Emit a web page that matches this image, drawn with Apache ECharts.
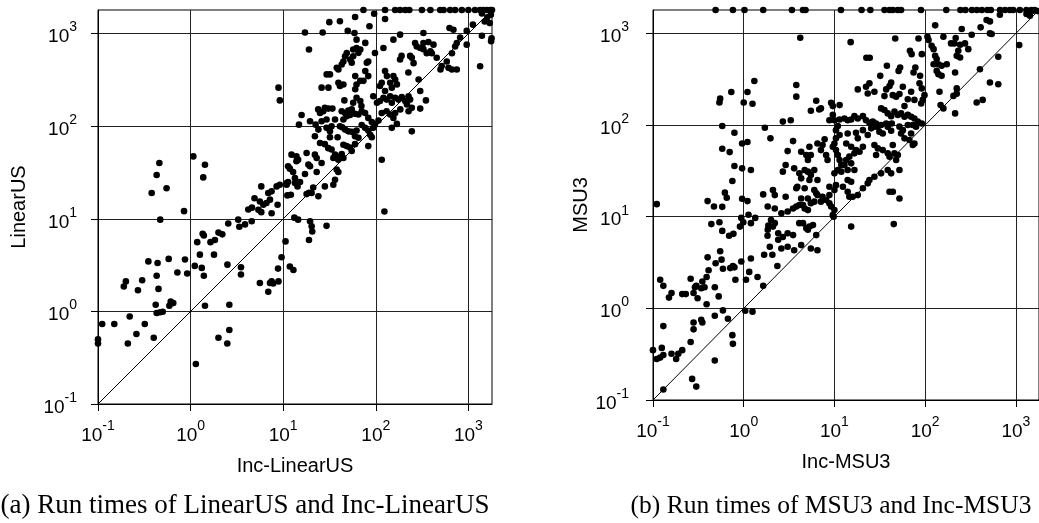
<!DOCTYPE html>
<html>
<head>
<meta charset="utf-8">
<script src="https://cdn.jsdelivr.net/npm/echarts@6/dist/echarts.min.js"></script>
<style>
html,body{margin:0;padding:0;background:#fff;}
#c{width:1039px;height:523px;}
</style>
</head>
<body>
<div id="c"></div>
<script>
// ---------- data ----------
const tickValues = [0.1, 1, 10, 100, 1000];
const tickExponents = ['-1', '0', '1', '2', '3'];
const axisMin = 0.1;
const axisMax = 1800;
const diagonal = [[0.1, 0.1], [1800, 1800]];

const titlesLeft = { x: 'Inc-LinearUS', y: 'LinearUS', caption: '(a) Run times of LinearUS and Inc-LinearUS' };
const titlesRight = { x: 'Inc-MSU3', y: 'MSU3', caption: '(b) Run times of MSU3 and Inc-MSU3' };

// (Inc-LinearUS, LinearUS) run times
const linearTimeouts = [
 [73.6,1800],[126,1800],[162,1800],[183,1800],[208,1800],[230,1800],[315,1800],[389,1800],[497,1800],[540,1800],
 [635,1800],[720,1800],[850,1800],[1000,1800],[1180,1800],[1340,1800],[1450,1800],[1590,1800],[1730,1800],[1800,1800]
];
const linearHigh = [
 [96,1640],[1400,1650],[1600,1500],[1750,1600],[1500,1350],[1700,1300],
 [59.8,1510],[41,1360],[31.5,1330],[126,1440],[17.2,1030],[26.7,1030],[49.8,1070],[58.9,1016],[183,975],[155,861],
 [327,1016],[625,1150],[690,1100],[1120,1250],[960,1070],[1400,950],[1780,890],[1760,830],[1340,445],[960,760],
 [815,910],[720,725],[750,790],[665,615],[585,500],[610,427],[665,410],[750,410],[515,446],[500,410],[455,550],
 [403,615],[327,680],[355,615],[389,645],[302,700],[266,790],[277,725],[327,790],[370,810],[420,760],[235,575],
 [245,550],[256,480],[183,525],[190,575],[225,380],[290,320],[302,240],[155,348],[162,320],[169,283],[126,394],
 [132,348],[143,295],[149,261],[116,295],[111,272],[126,240],[62,282],[68,309],[60,251],[44.7,282],[41,272],
 [39.5,295],[60,348],[73.6,309],[83,348],[77,394],[37.9,427],[39.5,410],[42.9,464],[44.7,500],[46.6,570],[48.6,617],
 [57,673],[62,700],[68,673],[65,620],[55,484],[57,570],[53,525],[80,484],[83,500],[98,617],[62,861],[77,794],
 [85.5,1200],[121,700],[29.5,363],[32,363],[26,261],[30.8,261],[19,673],[8.9,261]
];
const linearMid = [
 [9.2,190],[45.8,190],[57,179],[62,203],[68,187],[70,165],[94,211],[103,179],[111,187],[121,203],[131,194],[143,211],
 [149,179],[162,203],[176,194],[191,206],[208,187],[226,211],[235,194],[217,172],[245,158],[226,145],[302,155],[348,190],
 [23.9,152],[28.2,158],[30.7,155],[34,155],[27.1,145],[25,139],[42.9,145],[46.6,139],[50.6,148],[55,152],[48.5,128],
 [52.7,132],[59.7,136],[64.9,134],[70.5,145],[76.6,139],[15.8,132],[19.5,113],[14.8,104],[22.4,104],[26,113],[29.4,118],
 [36.3,118],[44.7,118],[83,123],[90.6,111],[98,104],[107,115],[116,139],[131,145],[143,134],[155,123],[162,139],[184,152],
 [41,100],[43.5,97.5],[46.6,92],[50.6,88],[55,87],[62,90],[70.5,103],[59.7,78],[65,75],[24,92],[29.4,96],[32,88],
 [33.3,100],[38.7,76],[32,76],[22,78],[25,66],[28.2,64],[30.7,58],[33.3,56],[76.6,96],[83,90],[87,81],[90.6,76],[94,96],
 [83,61],[44.7,63],[48.5,61],[52.7,59],[55,54],[59.7,64],[149,96],[169,106],[245,88],[116,43.5],[124,12],
 [36.3,49.3],[37.8,47.3],[34.8,45.4],[39.4,43.5],[42.9,50],[44.7,45.4],[12.3,49.3],[13.9,47.3],[14.5,43.5],[13.9,41.8],
 [17.9,51.4],[22,49.3],[23,45.4],[18.7,38.5],[19.5,36.9],[26,40.1],[23,32],[17.2,30.5],[11.3,36.9],[11.8,34.8],[12.8,32],
 [13.4,27.5],[10.9,24.3],[37.8,34],[39.4,32],[36.3,26.4],[34.8,23.3],[13.4,24.3],[14.3,22.4],[15.2,25],[21.1,21.8],
 [28.2,22.4],[5.8,22.4],[6.9,19],[7.5,19.8],[8.5,22.4],[9.2,23.3],[10.9,23.3],[11.3,25],[11.1,17.9],[12.1,18.2],
 [17.9,18.5],[19,19.1],[20.3,19],[24,17.5],[5.6,15.4],[6.1,14.2],[6.6,14.8],[7.2,16.1],[8.7,14.2],[7.5,11.5],[5.4,12.5],
 [5.8,11.8],[4.9,16.7],[13.2,10.3],[14.5,9.8],[19.5,9.4],[20.3,8.3],[20.6,7.3],[19,5.9],[29.4,8.4],[10.6,5.7],[9.6,3.85],
 [8.8,2.9],[11.8,3.05]
];
const linearLow = [
 [0.46,40],[0.43,29.7],[0.55,21.4],[0.38,19],[1.07,47.2],[1.43,38.4],[1.37,28],
 [0.85,12.1],[0.47,9.8],[3.27,9.8],[3.36,8.2],[3.87,8.7],[4.2,12.6],[4.6,13.2],[4.57,9.4],[2.55,8.9],[2.0,7.1],[2.2,6.8],
 [1.35,6.9],[1.39,6.6],[1.18,5.6],[1.64,5.6],[1.83,5.9],[1.26,4.1],[1.79,4.1],[2.5,3.2],[3.5,3.0],[3.5,2.5],[1.11,3.1],
 [1.32,2.95],[1.39,2.43],[0.92,2.57],[0.72,2.63],[0.87,3.63],[0.58,3.69],[0.44,3.33],[0.35,3.47],[0.43,2.43],[0.45,1.75],
 [0.30,2.17],[0.20,2.11],[0.19,1.86],[0.27,1.69],[0.42,1.18],[0.61,1.28],[0.65,1.23],[0.59,1.15],[0.43,0.96],[0.47,0.98],
 [0.50,0.99],[1.43,1.15],[2.62,1.18],[0.22,0.88],[0.111,0.73],[0.15,0.73],[0.32,0.73],[0.26,0.57],[0.40,0.52],[0.21,0.45],
 [0.10,0.50],[0.10,0.45],[2.62,0.63],[2.0,0.52],[2.49,0.45],[1.14,0.27],[8.9,2.11],[7.5,2.11],[7.2,2.03],[7.8,2.0],
 [6.9,1.63],[5.6,2.03],[12.9,2.8]
];

// (Inc-MSU3, MSU3) run times
const msuTimeouts = [
 [0.49,1800],[0.76,1800],[1.02,1800],[1.64,1800],[3.4,1800],[4.5,1800],[4.8,1800],[11.8,1800],[19.9,1800],[24.9,1800],
 [35.7,1800],[40.5,1800],[44,1800],[49.9,1800],[54.3,1800],[90,1800],[171,1800],[245,1800],[278,1800],[328,1800],
 [372,1800],[422,1800],[486,1800],[530,1800],[669,1800],[759,1800],[860,1800],[935,1800],[1106,1800],[1307,1800],
 [1483,1800],[1611,1800],[1430,1560],[1310,1630],[1550,1770],[1750,1750]
];
const msuHigh = [
 [476,1400],[518,1352],[667,1600],[409,1164],[518,1000],[541,984],[326,967],[253,1115],[129,1224],[159,920],[217,889],
 [210,778],[193,778],[275,778],[243,752],[299,673],[232,646],[223,569],[243,546],[46.8,881],[84.5,881],[106,920],
 [109,845],[118,733],[124,673],[92,594],[68,646],[71,594],[129,569],[134,524],[140,461],[152,443],[173,461],[124,461],
 [140,359],[152,344],[134,390],[214,374],[223,251],[223,220],[205,208],[159,152],[214,134],[402,406],[518,291],
 [640,279],[370,176],[431,188],[640,556],[1089,745],[37.9,443],[53,425],[51,390],[78,425],[74.5,374],[32,344],[88,344],
 [4.2,897],[15.1,803],[22.5,543],[24.5,543]
];
const msuMid = [
 [3.8,273],[3.8,204],[6.3,184],[5.5,143],[6.8,148],[7.1,152],[9.2,175],[9.6,161],[11.4,165],[18.1,245],[22.3,262],
 [23.3,221],[24.3,285],[27.6,231],[35.6,207],[37.2,245],[40.5,266],[44,212],[47.9,204],[42.2,290],[52.1,218],[56.8,262],
 [59.2,161],[64.4,191],[70.1,231],[76.2,188],[86.7,285],[91.8,251],[94.2,188],[98.4,212],[144,231],[148,165],[90.4,172],
 [32.7,152],[35.6,146],[38.7,134],[42.2,125],[45.9,140],[50,129],[54.3,134],[59.2,123],[64.4,129],[70.1,123],[76.2,118],
 [83,109],[12.9,118],[14,113],[15.3,115],[16.6,125],[18.1,118],[20.6,125],[22.3,113],[24.3,106],[26.5,109],[28.8,104],
 [30.1,96],[32.7,100],[37.2,104],[38.7,96],[42.9,104],[52.1,96],[56.8,88],[64.4,100],[73.1,100],[79.4,96],[91.8,104],
 [8.8,113],[10,113],[9.6,129],[10.9,97.5],[11.4,115],[2.7,109],[3.3,113],[1.97,71.6],[3.5,66.8],[3.05,52],[4.3,51.2],
 [5.3,58],[6.5,63],[5.5,47.1],[4.9,47.1],[5.1,41.5],[7.8,69.8],[7.4,60.5],[7.1,53.3],[8.1,47.1],[8.4,41.5],[10.4,88],
 [11.4,77.8],[10.4,71.6],[10,63],[9.6,58],[10.4,53.3],[10.9,47.1],[11.4,41.5],[11.9,36.6],[10.9,32.3],[10,29.7],[14,81],
 [17.3,82.4],[18.1,71.6],[20.6,88],[23.3,77.8],[25.4,92],[27.6,96],[31.3,84.5],[34.1,81],[42.2,86.7],[13.5,63],[15.3,58],
 [17.3,53.3],[16.6,49.1],[18.9,51.2],[20.6,58],[14.6,45.2],[13.5,41.5],[12.9,36.6],[15.3,38.2],[14,32.3],[11.9,31],
 [16.6,32.3],[27.6,60.5],[30.1,55.6],[28.8,47.1],[34.1,53.3],[38.7,49.1],[40.5,45.2],[45.9,49.1],[50,47.1],[47.9,41.5],
 [52.1,32.3],[38.7,32.3],[42.2,29.7],[32.7,29.7],[27.6,27.3],[24.3,25.1],[23.3,23.1],[20.6,20.4],[18.1,17.2],[15.9,16.5],
 [14.6,16.5],[14,18.7],[12.4,21.2],[14,25.1],[15.3,24.1],[54.3,81],[59.2,71.6],[67.1,68.6],[70.1,81],[76.2,63],[73.1,60.5],
 [44,60.5],[2.7,31],[2.9,36.6],[3.6,33.7],[4.1,29.7],[4.3,26.2],[4.7,32.3],[5.1,31],[5.3,25.1],[5.5,28.5],[6.0,32.3],
 [6.5,25.1],[2.1,19.5],[2.2,17.2],[2.9,16.5],[3.8,20.4],[3.9,21.2],[4.7,20.4],[6.0,19.5],[6.3,18],[6.5,17.2],[7.4,16.5],
 [8.8,17.2],[10,19.5],[8.8,21.2],[10.4,22.1],[4.3,15.8],[5.1,15.8],[5.5,14],[6.0,14.6],[7.1,14.6],[8.1,15.2],[8.8,14],
 [9.2,12.9],[10,11.8],[9.6,10.4],[9.8,10],[1.84,12.9],[2.2,12.3],[2.6,10.9],[3.05,11.4],[3.5,12.3],[3.8,12.9],[4.1,13.4],
 [4.5,13.4],[4.7,12.3],[5.1,11.8],[2.0,9.2],[2.2,8.5],[2.1,7.8],[1.84,7.2],[2.4,6.6],[2.7,6.0],[3.05,6.6],[3.5,6.3],
 [4.1,8.5],[4.5,8.5],[4.9,7.5],[5.1,7.2],[5.3,7.8],[5.8,8.1],[6.3,6.3],[6.5,4.3],[5.5,4.5],[4.3,4.9],[3.05,4.7],[2.6,4.5],
 [2.4,5.6],[3.6,4.3],[15.3,7.8],[45.1,8.3],[40.5,18.7],[44,18.7],[52.1,15.8]
];
const msuLow = [
 [1.31,302],[0.55,194],[0.54,176],[0.73,229],[1.1,229],[1.0,176],[1.25,171],[0.58,97.5],[0.79,82.4],[0.96,63],[1.1,65.3],
 [0.58,55.2],[0.70,50.7],[0.79,35.7],[0.96,33.7],[1.2,32.3],[0.75,24.5],[0.62,18.3],[0.65,16.1],[0.40,14.8],[0.47,12.9],
 [0.96,15.7],[1.1,14.8],[1.71,93.6],[1.64,17.5],[0.11,13.7],
 [0.58,12.8],[0.44,8.3],[0.54,8.7],[0.58,7.0],[0.69,6.2],[0.77,6.5],[0.94,9.7],[0.99,8.7],[1.13,10.5],[1.2,8.5],[1.34,9.7],
 [0.91,7.8],[0.40,3.6],[0.41,2.6],[0.49,3.1],[0.55,4.2],[0.57,3.4],[0.59,2.7],[0.71,2.75],[0.76,2.9],[0.79,2.8],[0.81,2.05],
 [0.94,3.25],[1.06,2.05],[1.15,2.5],[1.2,3.5],[1.42,2.2],[1.64,1.76],[1.68,3.85],[0.12,2.05],[0.13,1.76],[0.15,1.31],
 [0.16,1.47],[0.21,1.43],[0.23,1.43],[0.26,2.1],[0.28,1.47],[0.31,1.29],[0.29,1.7],[0.30,1.76],[0.35,1.96],[0.34,1.66],
 [0.37,1.7],[0.39,2.2],[0.39,1.11],[0.48,1.7],[0.53,1.35],[0.10,0.35],[0.11,0.28],[0.12,0.29],[0.13,0.31],[0.125,0.37],
 [0.13,0.64],[0.16,0.32],[0.18,0.28],[0.19,0.32],[0.21,0.35],[0.26,0.43],[0.28,0.70],[0.28,0.59],[0.34,0.75],[0.35,0.70],
 [0.27,0.17],[0.30,0.14],[0.48,0.27],[0.48,0.83],[0.59,0.95],[0.67,0.77],[0.75,0.51],[0.76,0.41],[1.04,0.94],[1.25,0.92],
 [0.13,0.13],[1.87,8.0],[1.83,6.2],[1.94,4.7],[2.07,3.85],[2.35,2.9]
];

// ---------- chart ----------
const linearAll = linearTimeouts.concat(linearHigh, linearMid, linearLow);
const msuAll = msuTimeouts.concat(msuHigh, msuMid, msuLow);

const FONT = 'Liberation Sans';
function tickFormatter(v) {
  const i = tickValues.findIndex(t => Math.abs(t - v) / t < 1e-6);
  return i < 0 ? '' : '{b|10}{s|' + tickExponents[i] + '}';
}
const rich = {
  b: { fontSize: 19, fontFamily: FONT, color: '#000', lineHeight: 26, verticalAlign: 'bottom' },
  s: { fontSize: 14, fontFamily: FONT, color: '#000', lineHeight: 12, verticalAlign: 'top' }
};
function makeAxis(gridIndex, name, labelMargin, nameGap) {
  return {
    type: 'log', logBase: 10, gridIndex,
    min: axisMin, max: axisMax,
    name, nameLocation: 'middle', nameGap,
    nameTextStyle: { fontSize: 20, fontFamily: FONT, color: '#000' },
    axisLine: { show: true, lineStyle: { color: '#000', width: 1 } },
    axisTick: { show: true, inside: false, length: 7, lineStyle: { color: '#000', width: 1 }, customValues: tickValues },
    axisLabel: { formatter: tickFormatter, rich, margin: labelMargin, customValues: tickValues },
    splitLine: { show: true, lineStyle: { color: '#222', width: 1 } },
    minorTick: { show: false }, minorSplitLine: { show: false }
  };
}
const dot = { symbol: 'circle', symbolSize: 6.6, itemStyle: { color: '#000', opacity: 1 } };

const chart = echarts.init(document.getElementById('c'), null, { renderer: 'canvas' });
chart.setOption({
  animation: false,
  backgroundColor: '#fff',
  grid: [
    { left: 98, top: 10, width: 394, height: 394, show: true, borderColor: '#000', borderWidth: 1, backgroundColor: 'transparent' },
    { left: 653, top: 10, width: 390, height: 390, show: true, borderColor: '#000', borderWidth: 1, backgroundColor: 'transparent' }
  ],
  xAxis: [
    makeAxis(0, titlesLeft.x, 15, 52),
    makeAxis(1, titlesRight.x, 15, 52)
  ],
  yAxis: [
    makeAxis(0, titlesLeft.y, 21, 69),
    makeAxis(1, titlesRight.y, 24, 53)
  ],
  series: [
    Object.assign({ type: 'scatter', xAxisIndex: 0, yAxisIndex: 0, data: linearAll, clip: false }, dot),
    { type: 'line', xAxisIndex: 0, yAxisIndex: 0, data: diagonal, showSymbol: false, symbol: 'none', lineStyle: { color: '#000', width: 1 }, z: 1 },
    Object.assign({ type: 'scatter', xAxisIndex: 1, yAxisIndex: 1, data: msuAll, clip: false }, dot),
    { type: 'line', xAxisIndex: 1, yAxisIndex: 1, data: diagonal, showSymbol: false, symbol: 'none', lineStyle: { color: '#000', width: 1 }, z: 1 }
  ],
  graphic: [
    { type: 'text', x: 245, y: 506, style: { text: titlesLeft.caption, font: '27px "Liberation Serif"', fill: '#000', align: 'center', verticalAlign: 'middle' } },
    { type: 'text', x: 831, y: 506, style: { text: titlesRight.caption, font: '25.5px "Liberation Serif"', fill: '#000', align: 'center', verticalAlign: 'middle' } }
  ]
});
</script>
</body>
</html>
